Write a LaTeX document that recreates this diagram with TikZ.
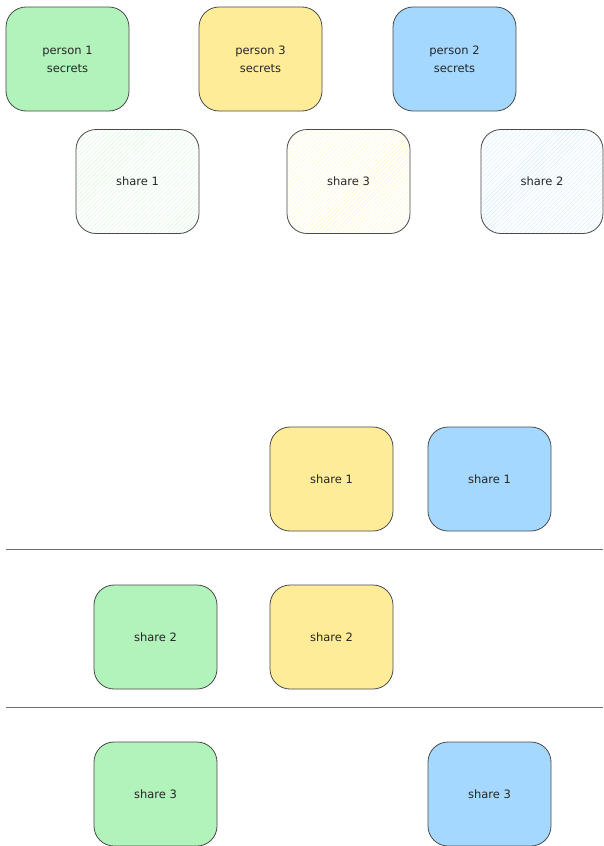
\documentclass[tikz,border=0pt]{standalone}
\usepackage{fontspec}
\setmainfont{DejaVu Sans}
\usetikzlibrary{patterns.meta}
\definecolor{pgreen}{HTML}{B2F2BB}
\definecolor{pyellow}{HTML}{FFEC99}
\definecolor{pblue}{HTML}{A5D8FF}
\definecolor{edge}{HTML}{4A4A4A}
\tikzset{
  card/.style={draw=edge, line width=0.8pt, rounded corners=20pt, minimum width=123pt, minimum height=104pt, align=center, font=\fontsize{11.5pt}{18pt}\selectfont, text=black!85},
  hatch/.style={card, pattern={Lines[angle=45,distance=3pt,line width=0.4pt]}, pattern color=#1!60},
  sep/.style={draw=edge!80, line width=0.8pt}
}
\begin{document}
\begin{tikzpicture}[x=1pt,y=-1pt]
\useasboundingbox (0,0) rectangle (603,846);
\node[card, fill=pgreen] (p1) at (67.5,59) {person 1\\secrets};
\node[card, fill=pyellow] (p3) at (260.5,59) {person 3\\ secrets};
\node[card, fill=pblue] (p2) at (454.5,59) {person 2\\ secrets};
\node[hatch=pgreen] (h1) at (137.5,181.5) {share 1};
\node[hatch=pyellow] (h3) at (348.5,181.5) {share 3};
\node[hatch=pblue, minimum width=122pt] (h2) at (542,181.5) {share 2};
\node[card, fill=pyellow] (y1) at (331.5,479) {share 1};
\node[card, fill=pblue] (b1) at (489.5,479) {share 1};
\coordinate (l1a) at (6,549);
\coordinate (l1b) at (603,549);
\draw[sep] (l1a) -- (l1b);
\node[card, fill=pgreen] (g2) at (155.5,637) {share 2};
\node[card, fill=pyellow] (y2) at (331.5,637) {share 2};
\coordinate (l2a) at (6,707);
\coordinate (l2b) at (603,707);
\draw[sep] (l2a) -- (l2b);
\node[card, fill=pgreen] (g3) at (155.5,794) {share 3};
\node[card, fill=pblue] (b3) at (489.5,794) {share 3};
\end{tikzpicture}
\end{document}
